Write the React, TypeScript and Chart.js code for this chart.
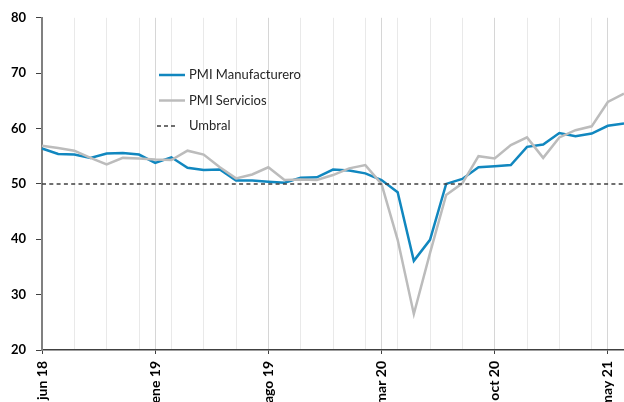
import React, { useEffect, useRef } from 'react';
import { Chart, registerables } from 'chart.js';

Chart.register(...registerables);

const months: string[] = [
  'jun 18', 'jul 18', 'ago 18', 'sep 18', 'oct 18', 'nov 18', 'dic 18',
  'ene 19', 'feb 19', 'mar 19', 'abr 19', 'may 19', 'jun 19', 'jul 19',
  'ago 19', 'sep 19', 'oct 19', 'nov 19', 'dic 19', 'ene 20', 'feb 20',
  'mar 20', 'abr 20', 'may 20', 'jun 20', 'jul 20', 'ago 20', 'sep 20',
  'oct 20', 'nov 20', 'dic 20', 'ene 21', 'feb 21', 'mar 21', 'abr 21',
  'may 21', 'jun 21',
];

const pmiManufacturero: number[] = [
  56.4, 55.4, 55.3, 54.7, 55.5, 55.6, 55.3, 53.8, 54.8, 52.9,
  52.5, 52.6, 50.6, 50.6, 50.4, 50.2, 51.1, 51.2, 52.6, 52.4,
  51.9, 50.7, 48.5, 36.1, 39.9, 50.0, 50.9, 53.0, 53.2, 53.4,
  56.7, 57.1, 59.2, 58.6, 59.1, 60.5, 60.9,
];

const pmiServicios: number[] = [
  56.9, 56.5, 56.0, 54.7, 53.5, 54.7, 54.6, 54.4, 54.3, 56.0,
  55.3, 53.0, 51.0, 51.7, 53.0, 50.7, 50.8, 50.7, 51.6, 52.8,
  53.4, 50.0, 39.9, 26.5, 37.5, 48.0, 50.1, 55.0, 54.6, 57.0,
  58.4, 54.7, 58.4, 59.7, 60.4, 64.8, 66.3,
];

const umbral: number[] = months.map(() => 50);

const seriesNames: string[] = ['PMI Manufacturero', 'PMI Servicios', 'Umbral'];

const FONT = 'Lato, "DejaVu Sans", sans-serif';
const BLUE = '#1187bf';
const GRAY = '#bcbcbc';
const DARK = '#404040';

const legendPlugin = {
  id: 'customLegend',
  afterDraw(chart: any) {
    const ctx = chart.ctx;
    ctx.save();
    const x0 = 159;
    const x1 = 185;
    const tx = 189;
    const rows = [75, 100.5, 126];
    const styles = [
      { color: BLUE, width: 2.5, dash: [] as number[] },
      { color: GRAY, width: 2.5, dash: [] as number[] },
      { color: DARK, width: 1.5, dash: [4, 3] },
    ];
    rows.forEach((y, i) => {
      ctx.beginPath();
      ctx.setLineDash(styles[i].dash);
      ctx.strokeStyle = styles[i].color;
      ctx.lineWidth = styles[i].width;
      ctx.moveTo(i === 2 ? 157 : x0, y);
      ctx.lineTo(i === 2 ? 177 : x1, y);
      ctx.stroke();
      ctx.setLineDash([]);
      ctx.fillStyle = '#262626';
      ctx.font = `13px ${FONT}`;
      ctx.textAlign = 'left';
      ctx.textBaseline = 'middle';
      ctx.fillText(seriesNames[i], tx, y);
    });
    ctx.restore();
  },
};

export default function App() {
  const canvasRef = useRef<HTMLCanvasElement | null>(null);

  useEffect(() => {
    if (!canvasRef.current) return;
    const chart = new Chart(canvasRef.current, {
      type: 'line',
      data: {
        labels: months,
        datasets: [
          {
            label: seriesNames[0],
            data: pmiManufacturero,
            borderColor: BLUE,
            backgroundColor: BLUE,
            borderWidth: 2.5,
            pointRadius: 0,
            tension: 0,
            order: 2,
          },
          {
            label: seriesNames[1],
            data: pmiServicios,
            borderColor: GRAY,
            backgroundColor: GRAY,
            borderWidth: 2.5,
            pointRadius: 0,
            tension: 0,
            order: 1,
          },
          {
            label: seriesNames[2],
            data: umbral,
            borderColor: DARK,
            backgroundColor: DARK,
            borderWidth: 1.5,
            borderDash: [4, 3.3],
            pointRadius: 0,
            tension: 0,
            order: 0,
          },
        ],
      },
      options: {
        animation: false,
        responsive: true,
        maintainAspectRatio: false,
        layout: { padding: { left: 11, top: 17, right: 0, bottom: 0 } },
        plugins: {
          legend: { display: false },
          tooltip: { enabled: false },
        },
        scales: {
          x: {
            offset: false,
            border: { display: true, color: DARK, width: 1.5 },
            grid: {
              display: true,
              drawOnChartArea: true,
              drawTicks: true,
              tickLength: 4,
              lineWidth: 1,
              color: (c: any) =>
                c.index % 7 === 0 ? '#d6d6d6' : c.index % 2 === 0 ? '#e9e9e9' : 'rgba(0,0,0,0)',
              tickColor: (c: any) => (c.index % 7 === 0 ? DARK : 'rgba(0,0,0,0)'),
            },
            ticks: {
              autoSkip: false,
              minRotation: 90,
              maxRotation: 90,
              padding: 7,
              color: '#000',
              font: { family: FONT, size: 14, weight: 'bold' },
              callback: (_v: any, i: number) => (i % 7 === 0 ? months[i] : ''),
            },
            afterFit: (scale: any) => {
              scale.height = 56;
              scale.paddingLeft = 0;
              scale.paddingRight = 0;
            },
          },
          y: {
            min: 20,
            max: 80,
            border: { display: true, color: '#808080', width: 2 },
            grid: {
              drawOnChartArea: false,
              drawTicks: true,
              tickLength: 6,
              tickColor: DARK,
            },
            ticks: {
              stepSize: 10,
              padding: 10,
              color: '#000',
              font: { family: FONT, size: 13, weight: 'bold' },
            },
            afterFit: (scale: any) => {
              scale.width = 31;
            },
          },
        },
      },
      plugins: [legendPlugin],
    });
    return () => chart.destroy();
  }, []);

  return (
    <div style={{ position: 'fixed', left: 0, top: 0, width: 624, height: 406, background: '#fff' }}>
      <canvas ref={canvasRef} />
    </div>
  );
}
